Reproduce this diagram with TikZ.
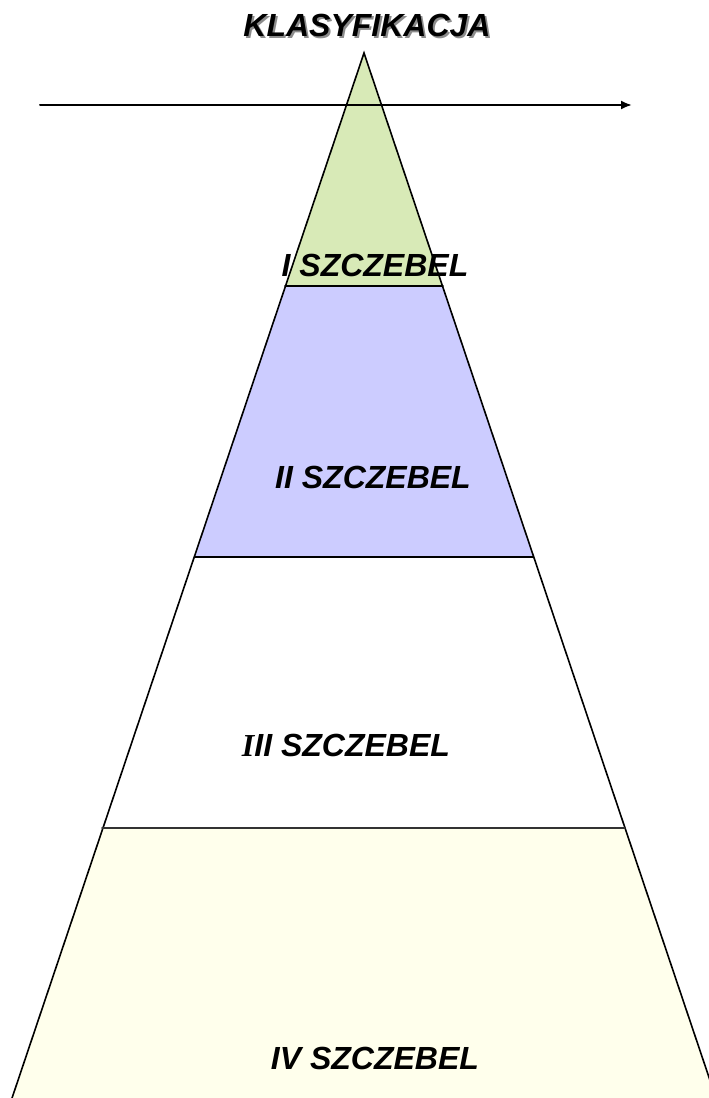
\documentclass[tikz,border=0pt]{standalone}
\usepackage{fontspec}
\setmainfont{Liberation Sans}
\newfontfamily\serifI{Liberation Serif}
\usetikzlibrary{arrows.meta}
\definecolor{szczebelI}{RGB}{216,234,183}
\definecolor{szczebelII}{RGB}{204,204,255}
\definecolor{szczebelIV}{RGB}{255,255,236}

\begin{document}
\begin{tikzpicture}[x=1pt,y=-1pt,line cap=round,>={Latex[length=11pt,width=9pt]},
    label/.style={font=\fontsize{32}{38}\selectfont\bfseries\itshape,inner sep=0pt}]
            \useasboundingbox (0,0) rectangle (709,1098);
            \clip (0,0) rectangle (709,1098);

            % corners of the levels
            \coordinate (apex) at (364,53);
            \coordinate (l1) at (285,286);   \coordinate (r1) at (443,286);
            \coordinate (l2) at (195,557);   \coordinate (r2) at (533,557);
            \coordinate (l3) at (102,828);   \coordinate (r3) at (625,828);
            \coordinate (l4) at (8,1110);    \coordinate (r4) at (720,1110);

            % fill the levels
            \fill[szczebelI] (apex) -- (r1) -- (l1) -- cycle;
            \fill[szczebelII] (l1) -- (r1) -- (r2) -- (l2) -- cycle;
            \fill[szczebelIV] (l3) -- (r3) -- (r4) -- (l4) -- cycle;

            % the axis
            \coordinate (axisL) at (40,105);
            \coordinate (axisR) at (632,105);
            \draw[->, line width=2pt] (axisL) -- (axisR);

            % sides and steps
            \draw[line width=1.6pt] (l4) -- (apex) -- (r4);
            \draw[line width=1.6pt] (l1) -- (r1);
            \draw[line width=1.6pt] (l2) -- (r2);
            \draw[line width=1.6pt, black!80] (l3) -- (r3);

            % title with shadow
            \node[label, text=black!45] at (369,27) {KLASYFIKACJA};
            \node[label] (title) at (367,25) {KLASYFIKACJA};

            % level names
            \node[label] (szI)   at (375,265)  {I SZCZEBEL};
            \node[label] (szII)  at (373,477)  {II SZCZEBEL};
            \node[label] (szIII) at (346,745)  {{\serifI I}II SZCZEBEL};
            \node[label] (szIV)  at (375,1058) {IV SZCZEBEL};
        \end{tikzpicture}
\end{document}
